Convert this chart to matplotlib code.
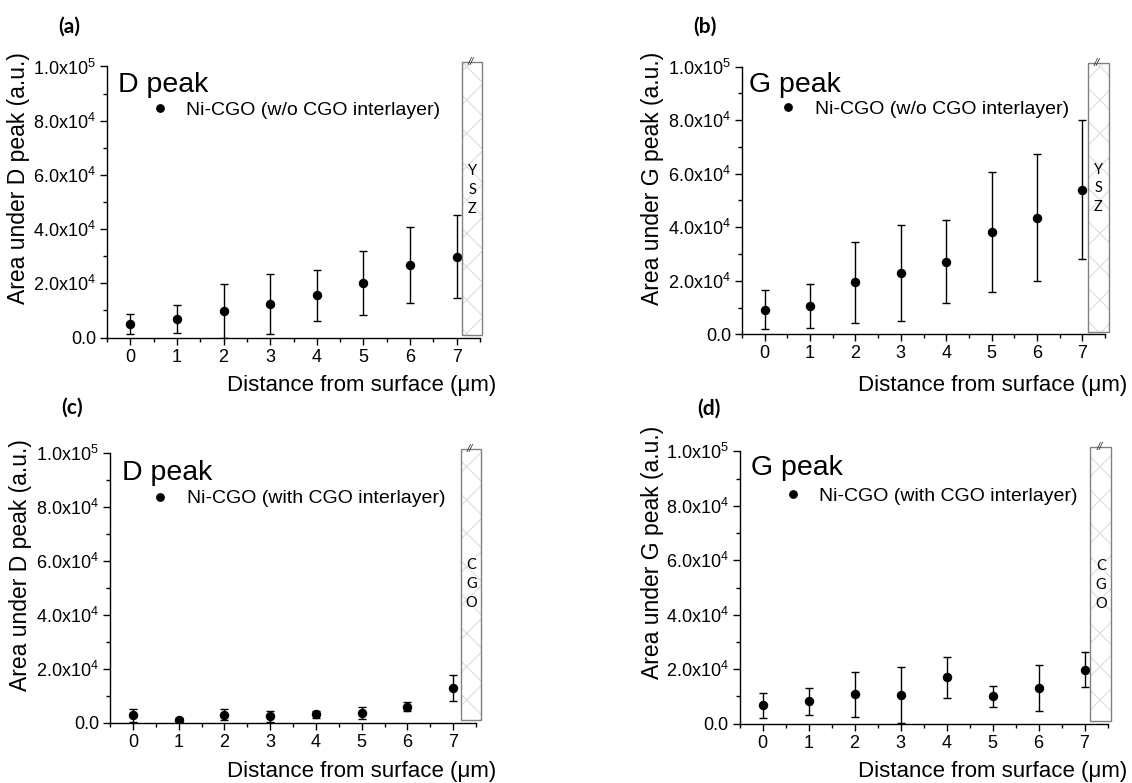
import matplotlib
matplotlib.use("Agg")
import matplotlib.pyplot as plt
from matplotlib.patches import Rectangle
from matplotlib.lines import Line2D
from matplotlib.ticker import FuncFormatter, MultipleLocator

plt.rcParams['font.family'] = ['Liberation Sans', 'DejaVu Sans']
plt.rcParams['mathtext.fontset'] = 'custom'
plt.rcParams['mathtext.rm'] = 'Liberation Sans'
plt.rcParams['mathtext.it'] = 'Liberation Sans:italic'
plt.rcParams['mathtext.bf'] = 'Liberation Sans:bold'
plt.rcParams['hatch.color'] = '#dcdcdc'
plt.rcParams['hatch.linewidth'] = 0.8

# ---------------- data ----------------
distance = [0, 1, 2, 3, 4, 5, 6, 7]

d_peak_wo = [5000, 6800, 9700, 12400, 15500, 20000, 26700, 29800]
d_peak_wo_err = [3700, 5300, 10000, 11200, 9500, 11800, 14100, 15300]

g_peak_wo = [9200, 10600, 19400, 22800, 27200, 38200, 43500, 54100]
g_peak_wo_err = [7200, 8200, 15100, 17900, 15400, 22500, 23700, 25800]

d_peak_with = [2700, 1100, 3000, 2400, 3100, 3600, 6000, 12800]
d_peak_with_err = [2500, 500, 1900, 2000, 1300, 2300, 1700, 4900]

g_peak_with = [6700, 8200, 10800, 10400, 17000, 10000, 13100, 19800]
g_peak_with_err = [4500, 5000, 8300, 10300, 7400, 3800, 8600, 6400]

panel_letters = ['(a)', '(b)', '(c)', '(d)']
peak_names = ['D peak', 'G peak', 'D peak', 'G peak']
series_labels = ['Ni-CGO (w/o CGO interlayer)', 'Ni-CGO (w/o CGO interlayer)',
                 'Ni-CGO (with CGO interlayer)', 'Ni-CGO (with CGO interlayer)']
ylabels = ['Area under D peak (a.u.)', 'Area under G peak (a.u.)',
           'Area under D peak (a.u.)', 'Area under G peak (a.u.)']
layer_names = ['YSZ', 'YSZ', 'CGO', 'CGO']
xlabel = 'Distance from surface (\u03bcm)'

values = [d_peak_wo, g_peak_wo, d_peak_with, g_peak_with]
errors = [d_peak_wo_err, g_peak_wo_err, d_peak_with_err, g_peak_with_err]

# ---------------- layout (pixels) ----------------
W, H = 1132, 783
fig = plt.figure(figsize=(W / 100, H / 100), dpi=100)

# left, right, top, bottom of each axes in pixels
boxes = [(107, 480, 66.5, 337.5), (742, 1105, 66.7, 334.3),
         (110, 476, 452.7, 722.7), (739.5, 1107.5, 451.3, 723.7)]
panel_pos = [(69, 27), (705, 27), (72, 408), (709, 409)]
ylabel_pos = [(19, 178), (653, 178), (21, 565), (653, 552)]
xlabel_pos = [(362, 386), (993, 385), (362, 771), (993, 772)]
title_pos = [(0.030, 0.907), (0.020, 0.906), (0.032, 0.90), (0.031, 0.912)]
legend_pos = [(0.116, 0.84), (0.101, 0.842), (0.111, 0.83), (0.119, 0.836)]
layer_box_x = [(7.11, 7.55), (7.12, 7.58), (7.18, 7.61), (7.13, 7.58)]
layer_text_y = [54500, 54500, 51300, 51000]


def fx(px):
    return px / W


def fy(py):
    return 1 - py / H


def sci_fmt(v, pos):
    if v == 0:
        return '0.0'
    e = 0
    m = v
    while abs(m) >= 10:
        m /= 10.0
        e += 1
    return '%.1fx10$^{%d}$' % (m, e)


for i in range(4):
    l, r, t, b = boxes[i]
    ax = fig.add_axes([fx(l), fy(b), (r - l) / W, (b - t) / H])
    ax.errorbar(distance, values[i], yerr=errors[i], fmt='o', color='black',
                ms=5.8, elinewidth=1.0, capsize=2.8, capthick=1.0,
                ecolor='black')
    ax.set_xlim(-0.5, 7.5)
    ax.set_ylim(0, 100000)
    ax.xaxis.set_major_locator(MultipleLocator(1))
    ax.xaxis.set_minor_locator(MultipleLocator(0.5))
    ax.yaxis.set_major_locator(MultipleLocator(20000))
    ax.yaxis.set_minor_locator(MultipleLocator(10000))
    ax.yaxis.set_major_formatter(FuncFormatter(sci_fmt))
    ax.tick_params(which='major', direction='out', length=5, width=1,
                   labelsize=13, pad=3)
    ax.tick_params(which='minor', direction='out', length=3, width=1)
    ax.spines['top'].set_visible(False)
    ax.spines['right'].set_visible(False)
    for s in ('left', 'bottom'):
        ax.spines[s].set_linewidth(1.0)

    # layer box on the right
    x0, x1 = layer_box_x[i]
    ax.add_patch(Rectangle((x0, 1000), x1 - x0, 100500, facecolor='white',
                           edgecolor='#dcdcdc', hatch='x', lw=0,
                           clip_on=False, zorder=3))
    ax.add_patch(Rectangle((x0, 1000), x1 - x0, 100500, facecolor='none',
                           edgecolor='#808080', lw=1.0, clip_on=False,
                           zorder=4))
    ax.text((x0 + x1) / 2 - 0.03, 101500, '//', fontsize=8, ha='center',
            va='center', style='italic', color='#333333', clip_on=False,
            zorder=5)
    ax.text((x0 + x1) / 2, layer_text_y[i], '\n'.join(layer_names[i]),
            family=['Lato', 'DejaVu Sans'], fontsize=10.5, ha='center',
            va='center', linespacing=1.45, clip_on=False, zorder=5)

    # peak name
    ax.text(title_pos[i][0], title_pos[i][1], peak_names[i],
            transform=ax.transAxes, fontsize=20.5, ha='left', va='baseline')

    # legend
    handle = Line2D([], [], marker='o', color='black', ls='none', ms=5.3)
    ax.legend([handle], [series_labels[i]], loc='center left',
              bbox_to_anchor=legend_pos[i], frameon=False, fontsize=14,
              handlelength=1.0, handletextpad=0.85, borderpad=0,
              borderaxespad=0)

    fig.text(fx(xlabel_pos[i][0]), fy(xlabel_pos[i][1]), xlabel,
             fontsize=16, ha='center', va='center')
    fig.text(fx(ylabel_pos[i][0]), fy(ylabel_pos[i][1]), ylabels[i],
             fontsize=16.5, ha='center', va='center', rotation=90)
    fig.text(fx(panel_pos[i][0]), fy(panel_pos[i][1]), panel_letters[i],
             family=['Lato', 'DejaVu Sans'], fontweight='bold', fontsize=15,
             ha='center', va='center')

fig.savefig('out.png', dpi=100)
